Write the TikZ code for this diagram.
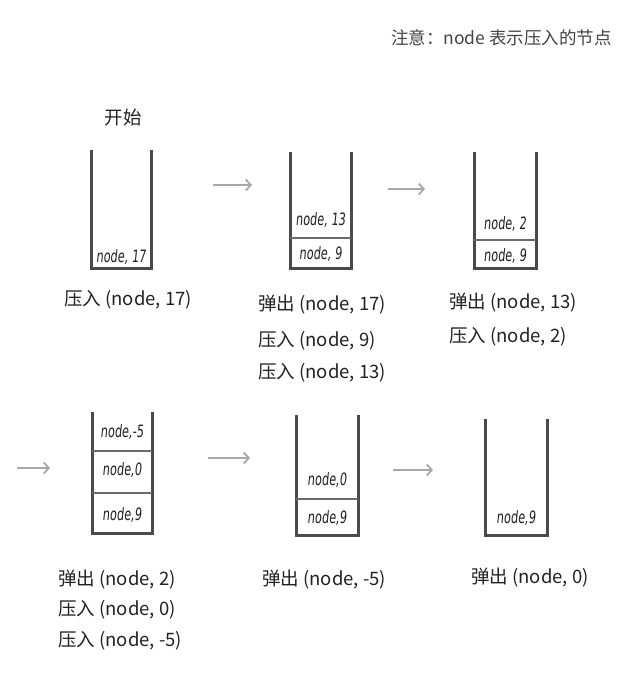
\documentclass[tikz,border=0pt]{standalone}
\usepackage{fontspec}
\newfontfamily\cjk{Noto Sans CJK SC}
\newfontfamily\handfont{DejaVu Sans Condensed}[FakeSlant=0.1,FakeStretch=0.74]
\usetikzlibrary{arrows.meta}
\definecolor{txt}{HTML}{222222}
\definecolor{notetxt}{HTML}{444444}
\definecolor{wallc}{HTML}{4A4A4A}
\definecolor{divc}{HTML}{6A6A6A}
\definecolor{arrc}{HTML}{A8A8A8}
\begin{document}
\begin{tikzpicture}[x=1pt,y=-1pt,
  wallline/.style={draw=wallc, line width=3pt, line join=miter},
  divline/.style={draw=divc, line width=1.3pt},
  lbl/.style={font=\cjk\fontsize{18.5}{20}\selectfont, text=txt, anchor=west, inner sep=0pt},
  hand/.style={font=\handfont\fontsize{17}{19}\selectfont, text=txt, inner sep=0pt},
  flow/.style={draw=arrc, line width=1.8pt, -{Straight Barb[length=5pt,width=11pt]}}
]
\useasboundingbox[fill=white] (0,0) rectangle (628,673);

% note
\node[font=\cjk\fontsize{17.5}{20}\selectfont, text=notetxt, anchor=east, inner sep=0pt] (note) at (612,38) {注意：node 表示压入的节点};

% ---------- stack 1
\node[font=\cjk\fontsize{18.5}{20}\selectfont, text=txt, inner sep=0pt] (start) at (123,117) {开始};
\draw[wallline] (91,150) -- (91,268) -- (151,268) -- (151,150);
\node[hand] (s1a) at (121,257) {node, 17};
\node[lbl] (l1) at (64,300) {压入 (node, 17)};

% ---------- stack 2
\draw[wallline] (290,152) -- (290,268) -- (351,268) -- (351,152);
\draw[divline] (290,238) -- (351,238);
\node[hand] (s2a) at (320.5,254) {node, 9};
\node[hand] (s2b) at (320.5,220) {node, 13};
\node[lbl] (l2a) at (258,305) {弹出 (node, 17)};
\node[lbl] (l2b) at (258,341) {压入 (node, 9)};
\node[lbl] (l2c) at (258,373) {压入 (node, 13)};

% ---------- stack 3
\draw[wallline] (474,152) -- (474,268) -- (536,268) -- (536,152);
\draw[divline] (474,240) -- (536,240);
\node[hand] (s3a) at (505,256) {node, 9};
\node[hand] (s3b) at (505,224) {node, 2};
\node[lbl] (l3a) at (449,303) {弹出 (node, 13)};
\node[lbl] (l3b) at (449,337) {压入 (node, 2)};

% ---------- stack 4
\draw[wallline] (92,412) -- (92,533) -- (152,533) -- (152,412);
\draw[divline] (92,451) -- (152,451);
\draw[divline] (92,493) -- (152,493);
\node[hand] (s4a) at (122,515) {node,9};
\node[hand] (s4b) at (122,470) {node,0};
\node[hand] (s4c) at (122,432) {node,-5};
\node[lbl] (l4a) at (58,580) {弹出 (node, 2)};
\node[lbl] (l4b) at (58,610) {压入 (node, 0)};
\node[lbl] (l4c) at (58,641) {压入 (node, -5)};

% ---------- stack 5
\draw[wallline] (296,415) -- (296,535) -- (358,535) -- (358,415);
\draw[divline] (296,499) -- (358,499);
\node[hand] (s5a) at (327,518) {node,9};
\node[hand] (s5b) at (327,480) {node,0};
\node[lbl] (l5) at (262,580) {弹出 (node, -5)};

% ---------- stack 6
\draw[wallline] (485,419) -- (485,535) -- (547,535) -- (547,419);
\node[hand] (s6a) at (516,518) {node,9};
\node[lbl] (l6) at (471,578) {弹出 (node, 0)};

% ---------- arrows
\coordinate (a1s) at (213,185); \coordinate (a1e) at (252,185);
\coordinate (a2s) at (388,189); \coordinate (a2e) at (425,189);
\coordinate (a3s) at (17,468);  \coordinate (a3e) at (50,468);
\coordinate (a4s) at (208,458); \coordinate (a4e) at (250,458);
\coordinate (a5s) at (393,470); \coordinate (a5e) at (433,470);
\draw[flow] (a1s) -- (a1e);
\draw[flow] (a2s) -- (a2e);
\draw[flow] (a3s) -- (a3e);
\draw[flow] (a4s) -- (a4e);
\draw[flow] (a5s) -- (a5e);
\end{tikzpicture}
\end{document}
